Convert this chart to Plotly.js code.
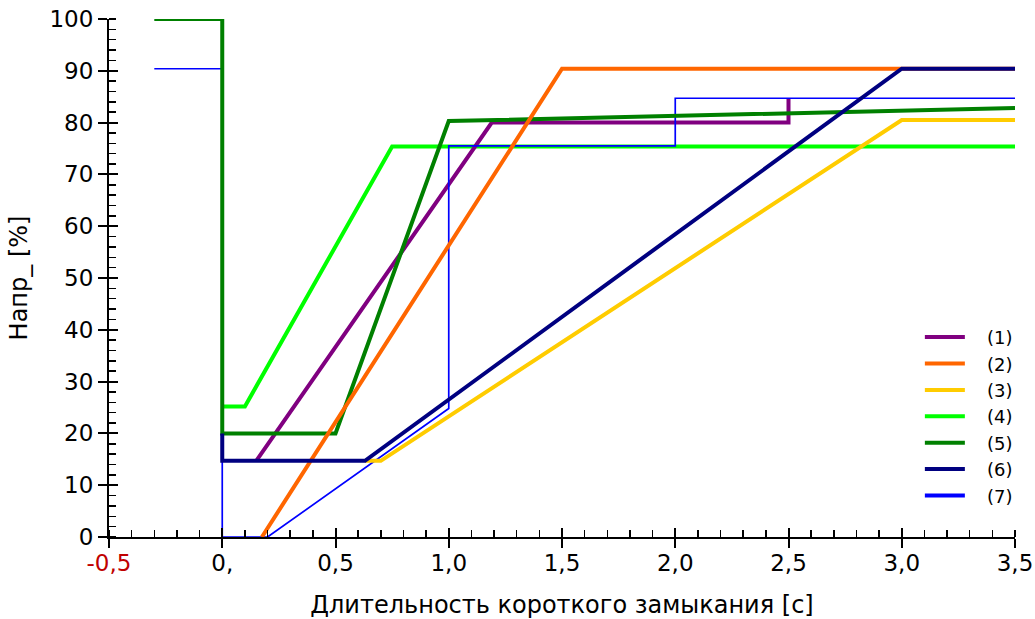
<!DOCTYPE html>
<html><head><meta charset="utf-8">
<script src="https://cdn.plot.ly/plotly-3.0.1.min.js"></script>
<style>html,body{margin:0;padding:0;background:#fff}</style>
</head><body><div id="chart" style="width:1035px;height:619px"></div>
<script>
// series data (x = seconds, y = percent)
const names = ["(1)", "(2)", "(3)", "(4)", "(5)", "(6)", "(7)"];
const colors = ["#800080", "#ff6600", "#ffcc00", "#00ff00", "#008000", "#000080", "#0000ff"];

const x1 = [0.15, 1.19, 2.5, 2.5];
const y1 = [14.7, 80.0, 80.0, 84.7];

const x2 = [0.175, 1.5, 3.5];
const y2 = [0, 90.4, 90.4];

const x3 = [0.63, 0.7, 3.0, 3.5];
const y3 = [14.7, 14.7, 80.5, 80.5];

const x4 = [0, 0.1, 0.75, 3.5];
const y4 = [25.2, 25.2, 75.4, 75.4];

const x5 = [-0.3, 0, 0, 0.5, 1.0, 3.5];
const y5 = [100, 100, 20, 20, 80.3, 82.8];

const x6 = [0, 0, 0.63, 3.0, 3.5];
const y6 = [20, 14.7, 14.7, 90.4, 90.4];

const x7 = [-0.3, 0, 0, 0.2, 1.0, 1.0, 2.0, 2.0, 3.5];
const y7 = [90.4, 90.4, 0, 0, 24.8, 75.5, 75.5, 84.7, 84.7];

const xTickVals = [-0.5, 0, 0.5, 1.0, 1.5, 2.0, 2.5, 3.0, 3.5];
const xTickText = ['<span style="color:#c00000">-0,5</span>', '0,', '0,5', '1,0', '1,5', '2,0', '2,5', '3,0', '3,5'];
const yTickVals = [0, 10, 20, 30, 40, 50, 60, 70, 80, 90, 100];

const xTitle = "Длительность короткого замыкания [с]";
const yTitle = "Напр_ [%]";

const seriesX = [x1, x2, x3, x4, x5, x6, x7];
const seriesY = [y1, y2, y3, y4, y5, y6, y7];
const widths = [4, 4, 4, 4, 4, 4, 1.7];
const drawOrder = [3, 0, 6, 4, 1, 2, 5];
const pad = '\u00a0\u00a0\u00a0';

const traces = [];
drawOrder.forEach(i => {
  traces.push({
    x: seriesX[i], y: seriesY[i], type: 'scatter', mode: 'lines',
    name: pad + names[i], legendrank: i + 1,
    line: {color: colors[i], width: widths[i], shape: 'linear'},
    showlegend: i !== 6, hoverinfo: 'skip'
  });
});
// legend entry for (7) with a thicker swatch
traces.push({
  x: [null], y: [null], type: 'scatter', mode: 'lines', name: pad + names[6], legendrank: 7,
  line: {color: colors[6], width: 4}, showlegend: true, hoverinfo: 'skip'
});
// dummy trace to activate the second axis pair (opposite-side major ticks)
traces.push({x: [null], y: [null], xaxis: 'x2', yaxis: 'y2', type: 'scatter', mode: 'lines', showlegend: false, hoverinfo: 'skip'});

const tickFont = {family: 'DejaVu Sans, sans-serif', size: 23, color: '#000'};
const titleFont = {family: 'DejaVu Sans, sans-serif', size: 24, color: '#000'};

const layout = {
  width: 1035, height: 619,
  margin: {l: 109, r: 20, t: 19, b: 82},
  paper_bgcolor: '#fff', plot_bgcolor: '#fff',
  font: tickFont,
  showlegend: true,
  legend: {
    x: 0.895, y: 0.421, xanchor: 'left', yanchor: 'top',
    bgcolor: 'rgba(0,0,0,0)', font: {family: 'DejaVu Sans, sans-serif', size: 18, color: '#000'},
    itemwidth: 40, tracegroupgap: 0
  },
  xaxis: {
    range: [-0.5, 3.5], fixedrange: true,
    tickmode: 'array', tickvals: xTickVals, ticktext: xTickText,
    ticks: 'outside', ticklen: 9, tickwidth: 2, tickcolor: '#000',
    minor: {dtick: 0.1, ticks: 'inside', ticklen: 7, tickwidth: 1.5, tickcolor: '#000', showgrid: false},
    showline: true, linecolor: '#000', linewidth: 2,
    showgrid: false, zeroline: false,
    tickfont: tickFont, ticklabelstandoff: -5,
    title: {text: '\u00a0\u00a0' + xTitle, font: titleFont, standoff: 22},
    automargin: false
  },
  yaxis: {
    range: [0, 100], fixedrange: true,
    tickmode: 'array', tickvals: yTickVals,
    ticks: 'outside', ticklen: 9, tickwidth: 2, tickcolor: '#000',
    minor: {dtick: 2, ticks: 'inside', ticklen: 7, tickwidth: 1.5, tickcolor: '#000', showgrid: false},
    showline: true, linecolor: '#000', linewidth: 2,
    showgrid: false, zeroline: false,
    tickfont: tickFont,
    title: {text: yTitle, font: titleFont, standoff: 15},
    automargin: false
  },
  xaxis2: {
    overlaying: 'x', anchor: 'y', side: 'bottom', range: [-0.5, 3.5], fixedrange: true,
    tickmode: 'array', tickvals: xTickVals, ticks: 'inside', ticklen: 9, tickwidth: 2, tickcolor: '#000',
    showticklabels: false, showline: false, showgrid: false, zeroline: false
  },
  yaxis2: {
    overlaying: 'y', anchor: 'x', side: 'left', range: [0, 100], fixedrange: true,
    tickmode: 'array', tickvals: yTickVals, ticks: 'inside', ticklen: 9, tickwidth: 2, tickcolor: '#000',
    showticklabels: false, showline: false, showgrid: false, zeroline: false
  }
};

Plotly.newPlot('chart', traces, layout, {staticPlot: true, displayModeBar: false});
</script>
</body></html>
